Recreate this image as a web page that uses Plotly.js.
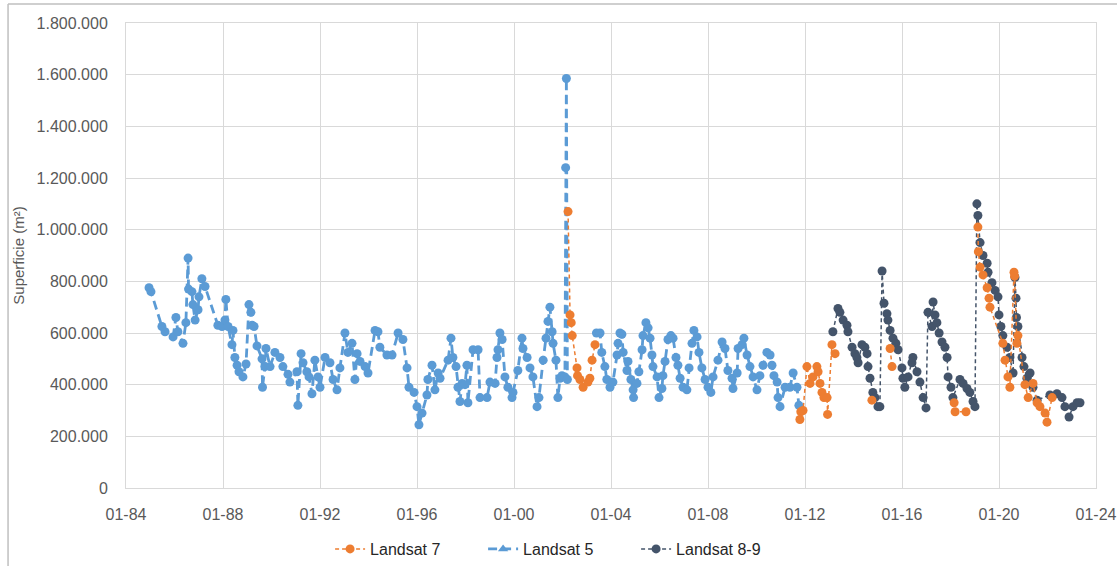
<!DOCTYPE html>
<html><head><meta charset="utf-8">
<script src="https://cdn.plot.ly/plotly-3.0.1.min.js"></script>
<style>html,body{margin:0;padding:0;background:#fff;}#chart{width:1117px;height:566px;}</style>
</head><body><div id="chart"></div>
<script>
// Decimal years and surface values (m²); null = gap in the series
const l5Year = [1984.95,1985.03,1985.48,1985.61,1985.94,1986.06,1986.14,1986.35,1986.47,1986.56,1986.58,1986.72,1986.76,1986.85,1986.97,1987.01,1987.13,1987.26,1987.79,1987.96,1988.08,1988.12,1988.21,1988.37,1988.41,1988.49,1988.58,1988.66,1988.82,1988.95,1989.07,1989.15,1989.20,1989.28,1989.40,1989.61,1989.63,1989.73,1989.77,1989.94,1990.14,1990.35,1990.47,1990.68,1990.76,1991.05,1991.09,1991.22,1991.30,1991.46,1991.55,1991.67,1991.79,1991.92,1992.00,1992.21,1992.41,1992.54,1992.70,1992.82,1993.03,1993.15,1993.32,1993.44,1993.53,1993.65,1993.86,1993.98,1994.27,1994.39,1994.47,1994.76,1994.97,1995.22,1995.42,1995.59,1995.67,1995.88,1996.00,1996.08,1996.21,1996.41,1996.45,1996.62,1996.74,1996.87,1996.95,1997.28,1997.40,1997.48,1997.61,1997.69,1997.77,1997.86,1997.98,1998.06,1998.10,1998.31,1998.52,1998.60,1998.89,1999.01,1999.22,1999.30,1999.34,1999.42,1999.51,1999.63,1999.75,1999.92,1999.96,2000.16,2000.33,2000.37,2000.54,2000.66,2000.78,2000.95,2001.03,2001.20,2001.32,2001.40,2001.48,2001.57,2001.61,2001.73,2001.81,2001.90,2001.98,2002.10,2002.13,2002.16,2002.20,2002.80,2003.40,2003.55,2003.62,2003.75,2003.83,2003.96,2004.08,2004.25,2004.29,2004.37,2004.45,2004.50,2004.66,2004.70,2004.82,2004.91,2004.93,2005.07,2005.15,2005.28,2005.32,2005.44,2005.53,2005.61,2005.69,2005.73,2005.90,2005.98,2006.10,2006.14,2006.23,2006.35,2006.47,2006.56,2006.68,2006.76,2006.85,2006.97,2007.13,2007.22,2007.34,2007.42,2007.55,2007.63,2007.75,2007.88,2008.00,2008.12,2008.21,2008.41,2008.58,2008.70,2008.82,2008.99,2009.03,2009.20,2009.24,2009.40,2009.48,2009.61,2009.73,2009.86,2010.02,2010.14,2010.27,2010.43,2010.56,2010.64,2010.72,2010.85,2010.89,2010.97,2011.18,2011.38,2011.51,2011.67,2011.75];
const l5Val = [775000,760000,625000,605000,585000,660000,605000,560000,640000,890000,770000,760000,710000,650000,690000,740000,810000,780000,630000,625000,650000,730000,625000,555000,610000,505000,475000,450000,430000,480000,710000,680000,630000,625000,550000,500000,390000,470000,540000,470000,525000,505000,470000,440000,410000,450000,320000,520000,485000,450000,430000,365000,495000,430000,390000,505000,485000,420000,380000,465000,600000,525000,560000,420000,520000,490000,470000,445000,610000,605000,545000,515000,515000,600000,575000,465000,390000,370000,315000,245000,290000,360000,420000,475000,380000,445000,425000,495000,580000,505000,470000,390000,335000,405000,400000,475000,330000,535000,535000,350000,350000,410000,405000,505000,535000,600000,575000,430000,390000,350000,370000,455000,580000,540000,505000,465000,430000,315000,350000,495000,580000,645000,700000,605000,560000,495000,350000,425000,435000,430000,1240000,1585000,420000,null,600000,600000,525000,470000,420000,390000,410000,515000,560000,600000,595000,525000,455000,490000,420000,380000,350000,405000,450000,535000,590000,640000,620000,580000,515000,470000,430000,350000,385000,435000,490000,575000,590000,580000,505000,475000,425000,390000,380000,465000,560000,610000,585000,525000,465000,420000,390000,370000,430000,495000,565000,540000,455000,425000,385000,445000,540000,555000,580000,515000,470000,430000,380000,435000,475000,525000,515000,475000,435000,410000,350000,315000,390000,390000,445000,390000,320000];

const l7Year = [2002.23,2002.31,2002.36,2002.40,2002.60,2002.62,2002.72,2002.85,2003.05,2003.13,2003.22,2003.34,2007.5,2011.79,2011.83,2011.92,2012.08,2012.21,2012.33,2012.49,2012.54,2012.62,2012.70,2012.78,2012.91,2012.93,2013.11,2013.24,2014.0,2014.76,2015.1,2015.51,2015.59,2016.8,2018.15,2018.19,2018.64,2018.9,2019.13,2019.15,2019.22,2019.34,2019.51,2019.59,2019.63,2020.16,2020.25,2020.37,2020.45,2020.62,2020.64,2020.74,2020.78,2021.07,2021.20,2021.40,2021.57,2021.69,2021.90,2021.98,2022.19];
const l7Val = [1070000,670000,640000,590000,465000,435000,420000,390000,410000,425000,495000,555000,null,265000,295000,300000,470000,405000,430000,470000,450000,405000,370000,350000,350000,285000,555000,520000,null,340000,null,540000,470000,null,330000,295000,295000,null,1010000,915000,855000,825000,775000,735000,700000,560000,495000,430000,390000,835000,820000,560000,590000,400000,350000,405000,330000,315000,290000,255000,350000];

const l8Year = [2013.15,2013.36,2013.44,2013.57,2013.73,2013.77,2013.94,2014.06,2014.14,2014.19,2014.35,2014.47,2014.56,2014.60,2014.68,2014.80,2014.89,2015.01,2015.09,2015.18,2015.26,2015.38,2015.42,2015.51,2015.63,2015.75,2015.84,2016.00,2016.04,2016.12,2016.25,2016.41,2016.45,2016.62,2016.74,2016.87,2016.99,2017.07,2017.24,2017.28,2017.36,2017.44,2017.53,2017.65,2017.77,2017.86,2017.90,2018.02,2018.10,2018.39,2018.52,2018.68,2018.80,2018.93,2019.01,2019.09,2019.13,2019.22,2019.34,2019.51,2019.55,2019.71,2019.84,2019.96,2020.00,2020.08,2020.16,2020.33,2020.45,2020.58,2020.66,2020.70,2020.72,2020.78,2020.95,2021.03,2021.15,2021.28,2021.40,2021.57,2022.10,2022.39,2022.60,2022.72,2022.89,2023.05,2023.22,2023.34];
const l8Val = [605000,695000,680000,650000,630000,605000,545000,520000,505000,485000,555000,545000,520000,470000,425000,370000,350000,315000,315000,840000,715000,675000,650000,610000,580000,560000,535000,465000,425000,390000,430000,485000,505000,450000,410000,350000,310000,680000,625000,720000,670000,640000,600000,565000,545000,505000,430000,390000,350000,420000,405000,385000,370000,335000,315000,1100000,1055000,950000,900000,870000,835000,795000,765000,740000,670000,625000,590000,545000,505000,445000,815000,735000,660000,625000,505000,470000,425000,445000,390000,340000,360000,365000,350000,315000,275000,315000,330000,330000];

const xTickStart = '1984-01-01', xTickEnd = '2024-01-01';

function toDate(y){
  const yr = Math.floor(y);
  const a = Date.UTC(yr,0,1), b = Date.UTC(yr+1,0,1);
  return new Date(a + (y-yr)*(b-a)).toISOString().slice(0,10);
}

const C7 = '#ed7d31', C5 = '#5b9bd5', C8 = '#44546a';
const traces = [
  {name:'Landsat 8-9', x:l8Year.map(toDate), y:l8Val, type:'scatter', mode:'lines+markers', connectgaps:false,
   line:{color:C8, width:1.5, dash:'4px,3px'}, marker:{color:C8, size:9, symbol:'circle'}, legendrank:3},
  {name:'Landsat 5', x:l5Year.map(toDate), y:l5Val, type:'scatter', mode:'lines+markers', connectgaps:false,
   line:{color:C5, width:2.8, dash:'9px,5px'}, marker:{color:C5, size:9, symbol:'circle'}, legendrank:2, showlegend:false},
  {name:'Landsat 7', x:l7Year.map(toDate), y:l7Val, type:'scatter', mode:'lines+markers', connectgaps:false,
   line:{color:C7, width:1.5, dash:'4px,3px'}, marker:{color:C7, size:9, symbol:'circle'}, legendrank:1},
  {name:'Landsat 5', x:[null], y:[null], type:'scatter', mode:'lines+markers',
   line:{color:C5, width:2.8, dash:'9px,5px'}, marker:{color:C5, size:9, symbol:'triangle-up'}, legendrank:2}
];

const layout = {
  width:1117, height:566,
  margin:{l:126, r:21, t:23, b:78, autoexpand:false},
  paper_bgcolor:'#fff', plot_bgcolor:'#fff',
  separators:',.',
  font:{family:'"Liberation Sans", Arial, sans-serif', size:16, color:'#595959'},
  showlegend:true,
  legend:{orientation:'h', x:0.447, xanchor:'center', yref:'container', y:0.03, yanchor:'middle',
    font:{size:16, color:'#262626'}, traceorder:'normal', entrywidth:108, entrywidthmode:'pixels'},
  xaxis:{type:'date', range:[xTickStart, xTickEnd], tick0:xTickStart, dtick:'M48', tickformat:'%m-%y',
    showgrid:true, gridcolor:'#d9d9d9', gridwidth:1, showline:true, linecolor:'#d9d9d9', mirror:true,
    ticks:'', ticklabelstandoff:12, zeroline:false, tickfont:{size:16, color:'#595959'}},
  yaxis:{range:[0,1800000], dtick:200000, tickformat:',d', showgrid:true, gridcolor:'#d9d9d9', gridwidth:1,
    showline:true, linecolor:'#d9d9d9', mirror:true, zeroline:false, ticks:'', ticklabelstandoff:14,
    tickfont:{size:16, color:'#595959'},
    title:{text:'Superficie (m²)', font:{size:15, color:'#595959'}, standoff:8}},
  shapes:[
    {type:'line', xref:'paper', yref:'paper', x0:-0.1216, x1:1.05, y0:1.041, y1:1.041, line:{color:'#bfbfbf', width:1.5}},
    {type:'line', xref:'paper', yref:'paper', x0:-0.1216, x1:-0.1216, y0:1.041, y1:-0.2, line:{color:'#bfbfbf', width:1.5}}
  ]
};
Plotly.newPlot('chart', traces, layout, {displayModeBar:false, staticPlot:true});
</script></body></html>
